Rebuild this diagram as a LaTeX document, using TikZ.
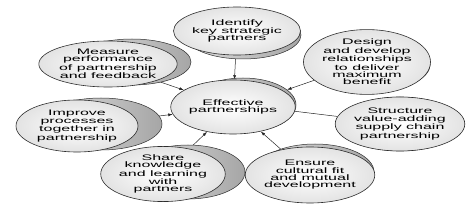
\documentclass[tikz,border=0pt]{standalone}
\usepackage{fontspec}
\setmainfont{Liberation Sans}[FakeStretch=2.0]
\usetikzlibrary{shapes.geometric,arrows.meta,backgrounds}
\tikzset{
  bub/.style={ellipse, draw=gray!35!black, line width=0.6pt, inner sep=0pt,
    inner color=white, outer color=gray!22, align=center,
    font=\fontsize{8}{7.3}\selectfont},
  shad/.style={ellipse, draw=gray!35!black, line width=0.5pt, inner sep=0pt,
    left color=gray!25, right color=gray!70},
  conn/.style={draw=gray!30!black, line width=0.5pt},
  arr/.style={conn, -{Latex[length=4.5pt,width=3pt]}}
}
\newcommand{\bubble}[8]{%
  \node[shad, minimum width=2*#4pt, minimum height=2*#5pt] (#1s) at (#2+#6,#3+#7) {};
  \node[bub, minimum width=2*#4pt, minimum height=2*#5pt] (#1) at (#2,#3) {#8};
}
\begin{document}
\begin{tikzpicture}[x=1pt,y=-1pt]
\useasboundingbox (0,0) rectangle (467,219);
\bubble{ident}{237}{31}{58}{24}{6}{4}{Identify\\key strategic\\partners}
\bubble{measure}{108}{64}{59}{23}{24}{-2}{Measure\\performance\\of partnership\\and feedback}
\bubble{design}{367}{62}{60}{26}{3}{3}{Design\\and develop\\relationships\\to deliver\\maximum\\benefit}
\bubble{improve}{77}{126}{61}{26}{24}{-2}{Improve\\processes\\together in\\partnership}
\bubble{structure}{400}{124}{58}{27}{0}{0}{Structure\\value-adding\\supply chain\\partnership}
\bubble{ensure}{310}{175}{59}{28}{5}{-3}{Ensure\\cultural fit\\and mutual\\development}
\bubble{share}{163}{174}{57}{27}{25}{-2}{Share\\knowledge\\and learning\\with\\partners}
\bubble{center}{233}{107}{53}{27}{10}{-2}{Effective\\partnerships}
\begin{pgfonlayer}{background}
\draw[arr] (ident) -- (center);
\draw[arr] (measure) -- (center);
\draw[arr] (design) -- (centers);
\draw[conn] (structure) -- (centers);
\draw[arr] (ensure) -- (center);
\draw[arr] (share) -- (center);
\draw[arr] (improve) -- (center);
\end{pgfonlayer}
\end{tikzpicture}
\end{document}
